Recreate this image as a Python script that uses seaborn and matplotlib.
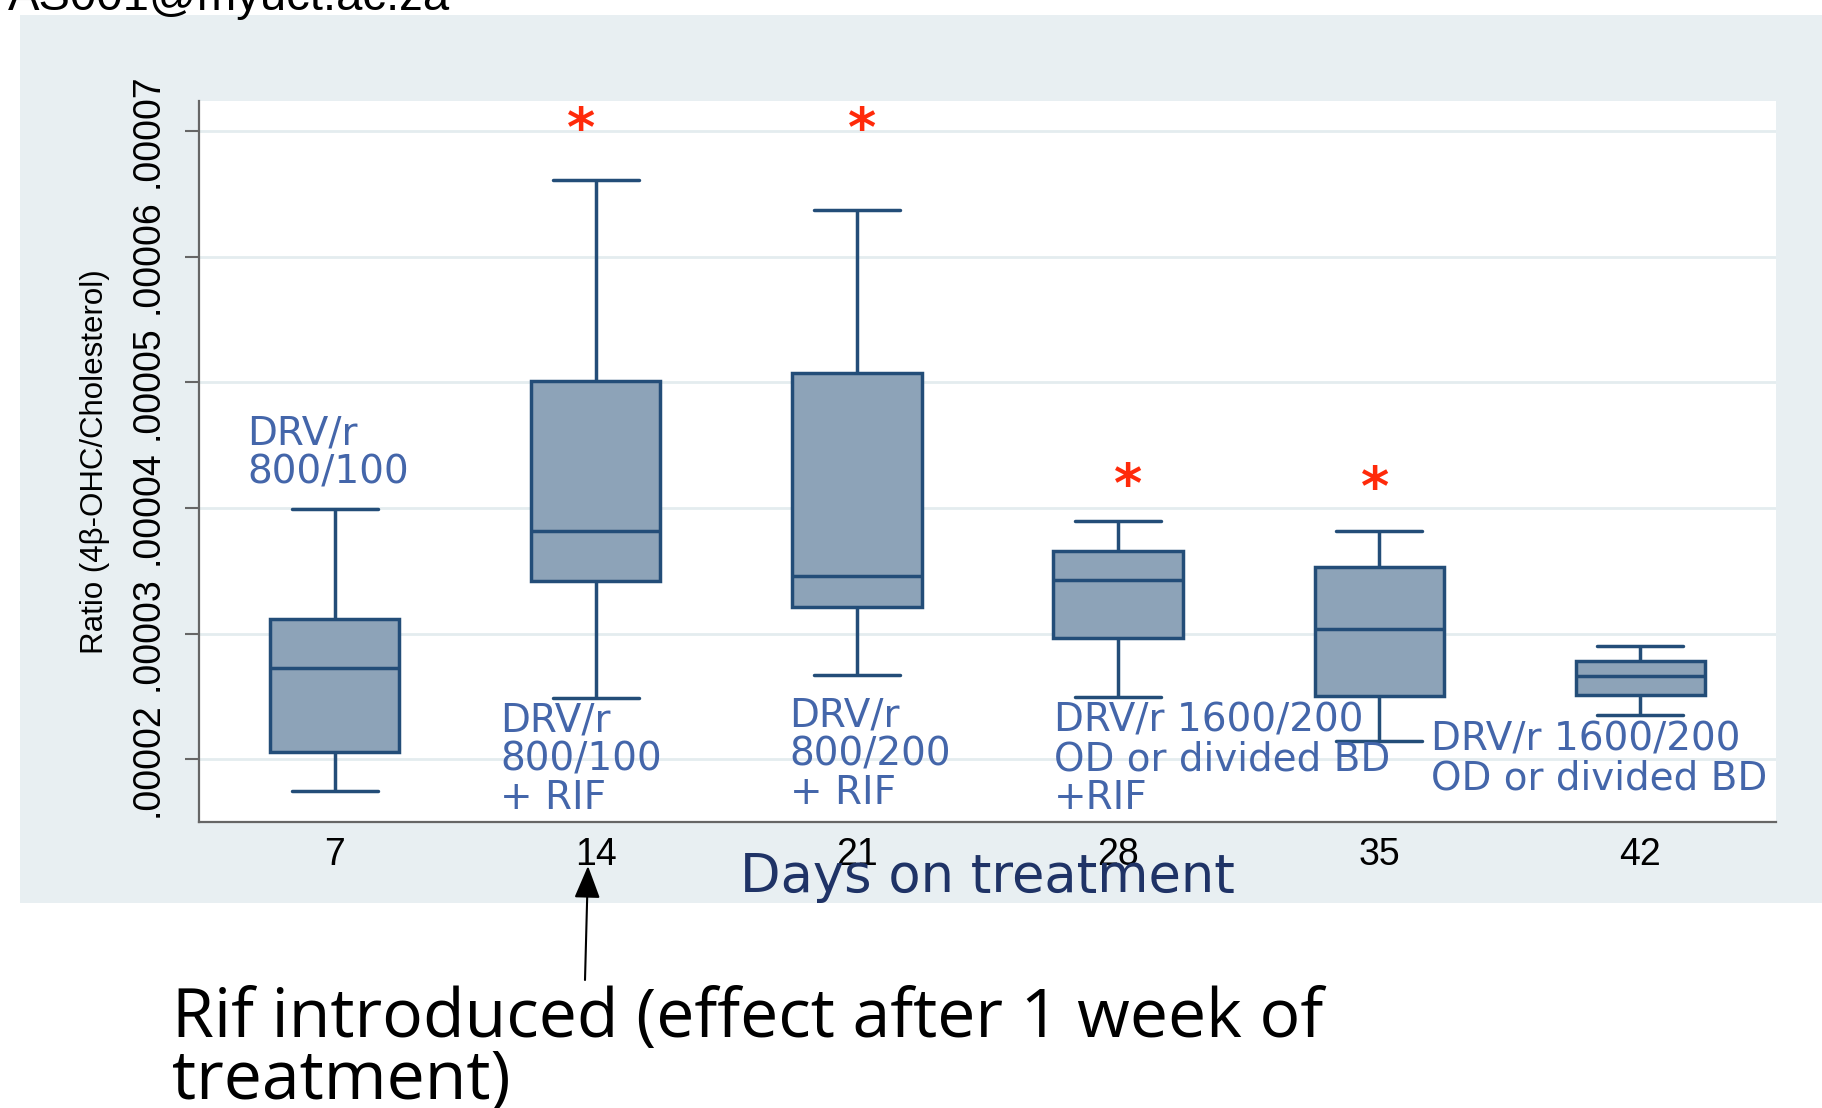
import numpy as np
import pandas as pd
import matplotlib
matplotlib.use("Agg")
import matplotlib.pyplot as plt
import seaborn as sns
from matplotlib.patches import Rectangle
from matplotlib.ticker import FixedLocator, FuncFormatter

# ---------------- data ----------------
days = ["7", "14", "21", "28", "35", "42"]
whisker_low = [1.745e-5, 2.486e-5, 2.670e-5, 2.494e-5, 2.146e-5, 2.353e-5]
q1 = [2.056e-5, 3.418e-5, 3.210e-5, 2.967e-5, 2.500e-5, 2.513e-5]
median = [2.725e-5, 3.820e-5, 3.458e-5, 3.426e-5, 3.038e-5, 2.659e-5]
q3 = [3.116e-5, 5.014e-5, 5.076e-5, 3.657e-5, 3.530e-5, 2.780e-5]
whisker_high = [3.990e-5, 6.608e-5, 6.375e-5, 3.896e-5, 3.819e-5, 2.903e-5]

yticks = [2e-5, 3e-5, 4e-5, 5e-5, 6e-5, 7e-5]

star_days = ["14", "21", "28", "35"]
star_values = [7.08e-5, 7.08e-5, 4.25e-5, 4.22e-5]

regimen_labels = [
    "DRV/r\n800/100",
    "DRV/r\n800/100\n+ RIF",
    "DRV/r\n800/200\n+ RIF",
    "DRV/r 1600/200\nOD or divided BD\n+RIF",
    "DRV/r 1600/200\nOD or divided BD",
]
regimen_days = ["7", "14", "21", "28", "35"]
regimen_values = [4.44e-5, 2.0e-5, 2.04e-5, 2.0e-5, 2.0e-5]

# long table built from the summary arrays (5 values -> exact quartiles)
rows = []
for i, d in enumerate(days):
    for v in (whisker_low[i], q1[i], median[i], q3[i], whisker_high[i]):
        rows.append({"day": d, "ratio": v})
df = pd.DataFrame(rows)

# ---------------- styling ----------------
W, H = 1822, 1108
panel_color = "#E8EFF2"
box_fill = "#8DA3B8"
box_edge = "#234D78"
label_blue = "#4466AA"
navy = "#1F3366"
star_red = "#FF2A0A"

sns.set_theme(style="white")
plt.rcParams["font.family"] = ["Liberation Sans", "DejaVu Sans"]

fig = plt.figure(figsize=(W / 100, H / 100), dpi=100)
fig.patch.set_facecolor("white")
panel = Rectangle((20 / W, 1 - 903 / H), 1, (903 - 15) / H,
                  transform=fig.transFigure, facecolor=panel_color,
                  edgecolor="none", zorder=-5)
fig.add_artist(panel)

ax = fig.add_axes([199 / W, 1 - 822 / H, (1776 - 199) / W, (822 - 101) / H])
ax.set_facecolor("white")
ax.set_zorder(1)

box_kws = dict(data=df, x="day", y="ratio", order=days, color=box_fill,
               linecolor=box_edge, linewidth=2.5, width=0.495, whis=(0, 100),
               showfliers=False, saturation=1, ax=ax)
try:
    sns.boxplot(capwidths=0.33, **box_kws)
except TypeError:
    ax.cla()
    sns.boxplot(**box_kws)

ax.set_xlim(-0.52, 5.52)
ax.set_ylim(1.5e-5, 7.24e-5)

# grid & spines
ax.yaxis.set_major_locator(FixedLocator(yticks))
ax.yaxis.set_major_formatter(FuncFormatter(lambda v, p: f"{v:.5f}".lstrip("0")))
ax.set_axisbelow(True)
ax.yaxis.grid(True, color="#E4ECEF", lw=2.0)
ax.xaxis.grid(False)
for s in ["top", "right"]:
    ax.spines[s].set_visible(False)
for s in ["left", "bottom"]:
    ax.spines[s].set_color("#666666")
    ax.spines[s].set_linewidth(1.6)

ax.tick_params(axis="y", which="major", left=True, length=10, width=1.5,
               color="#666666", pad=14, labelsize=27, labelcolor="black")
ax.tick_params(axis="x", which="major", bottom=False, length=0, pad=11,
               labelsize=27, labelcolor="black")
for t in ax.get_yticklabels():
    t.set_rotation(90)
    t.set_va("center")
    t.set_family(["Liberation Sans Narrow", "Liberation Sans", "DejaVu Sans"])
for t in ax.get_xticklabels():
    t.set_family(["Liberation Sans", "DejaVu Sans"])

ax.set_ylabel("Ratio (4β-OHC/Cholesterol)", fontsize=22.5, color="black",
              family=["Liberation Sans Narrow", "Liberation Sans", "DejaVu Sans"])
ax.yaxis.set_label_coords(-0.066, 0.5)
ax.yaxis.label.set_va("center")

ax.set_xlabel("Days on treatment", fontsize=38, color=navy, family=["DejaVu Sans"])
ax.xaxis.set_label_coords(0.5, -0.076)
ax.xaxis.label.set_va("center")

# significance stars
star_dx = [-0.056, 0.02, 0.04, -0.015]
for d, v, dx in zip(star_days, star_values, star_dx):
    ax.annotate("*", xy=(days.index(d) + dx, v), xytext=(0, -18),
                textcoords="offset points", ha="center", va="baseline",
                fontsize=39, fontweight="bold", color=star_red,
                family=["DejaVu Sans"], annotation_clip=False)

# regimen labels
label_dx = [-0.335, -0.367, -0.258, -0.244, 0.2]
for txt, d, v, dx in zip(regimen_labels, regimen_days, regimen_values, label_dx):
    ax.text(days.index(d) + dx, v, txt, ha="left", va="center", fontsize=28,
            color=label_blue, linespacing=1.03, family=["DejaVu Sans"],
            clip_on=False, zorder=5)

# arrow + note below the chart
ax.annotate("", xy=(588, H - 866), xycoords="figure pixels",
            xytext=(585, H - 980), textcoords="figure pixels",
            arrowprops=dict(arrowstyle="-|>,head_length=0.8,head_width=0.32",
                            color="black", lw=1.5, mutation_scale=25,
                            shrinkA=0, shrinkB=0),
            annotation_clip=False, zorder=10)
fig.text(172 / W, 1 - 1050 / H, "Rif introduced (effect after 1 week of\ntreatment)",
         ha="left", va="center", fontsize=49, color="black", linespacing=0.9,
         family=["Open Sans", "DejaVu Sans"])

# clipped header text at the very top
fig.text(8 / W, 1 - 10 / H, "AS001@myuct.ac.za", ha="left", va="baseline",
         fontsize=34, color="black", family=["Liberation Sans", "DejaVu Sans"])

fig.savefig("out.png", dpi=100, facecolor="white")
